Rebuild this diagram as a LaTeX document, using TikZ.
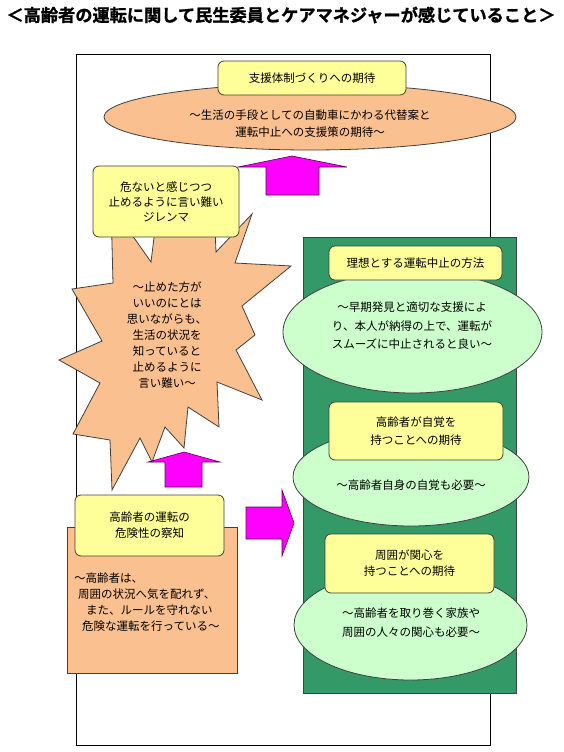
\documentclass[tikz,border=0pt]{standalone}
\usepackage{fontspec}
\setmainfont{Noto Sans CJK JP}
\newfontfamily\titlefont[FakeBold=1.2]{Noto Sans CJK JP Bold}
\usetikzlibrary{shapes.geometric}
\definecolor{boxyellow}{HTML}{FFFF99}
\definecolor{peach}{HTML}{FAC090}
\definecolor{panelgreen}{HTML}{339966}
\definecolor{palegreen}{HTML}{CCFFCC}
\definecolor{arrowpink}{HTML}{FF00FF}
\begin{document}
\begin{tikzpicture}[x = 1pt, y = -1pt,
    heading/.style = {rounded corners = 6pt, draw = black!75, fill = boxyellow,
                      line width = .8pt},
    oval/.style = {ellipse, draw = black!75, line width = .8pt, inner sep = 0pt},
    words/.style = {align = center, inner sep = 0pt,
                    font = \fontsize{11.5}{16}\selectfont},
    bigarrow/.style = {draw = violet!70!black, fill = arrowpink, line width = .6pt}]
  \useasboundingbox (0,0) rectangle (563,752);
  \node [font = \fontsize{17.2}{20}\selectfont\titlefont] (title) at (281,15)
    {＜高齢者の運転に関して民生委員とケアマネジャーが感じていること＞};
  \draw [line width = .8pt] (76,54) rectangle (490,745);
  \node [oval, fill = peach, minimum width = 412pt, minimum height = 66pt]
    (hope) at (310,117) {};
  \node [words, font = \fontsize{11.5}{17}\selectfont] (hopetext) at (310,124)
    {～生活の手段としての自動車にかわる代替案と\\運転中止への支援策の期待～};
  \node [heading, words, minimum width = 188pt, minimum height = 34pt]
    (support) at (312,78) {支援体制づくりへの期待};
  \draw [bigarrow] (266,195) -- (266,167) -- (238,167) -- (292,156)
    -- (347,167) -- (319,167) -- (319,195) -- cycle;
  \draw [draw = black!75, fill = peach, line width = .8pt]
    (113,283) -- (111,205) -- (151,262) -- (158,205) -- (186,228) -- (214,205)
    -- (216,252) -- (252,214) -- (235,263) -- (291,266) -- (242,306)
    -- (255,335) -- (236,350) -- (262,400) -- (217,382) -- (219,427)
    -- (188,407) -- (184,448) -- (165,427) -- (152,462) -- (140,438)
    -- (112,490) -- (110,440) -- (73,434) -- (100,383) -- (59,360)
    -- (102,341) -- (72,289) -- cycle;
  \node [words] (worry) at (167,335)
    {～止めた方が\\いいのにとは\\思いながらも、\\生活の状況を\\知っていると\\止めるように\\言い難い～};
  \node [heading, words, font = \fontsize{11.5}{15}\selectfont,
         minimum width = 146pt, minimum height = 71pt]
    (dilemma) at (166,201.5) {危ないと感じつつ\\止めるように言い難い\\ジレンマ};
  \draw [bigarrow] (165,487) -- (165,462) -- (148,462) -- (184,452)
    -- (220,462) -- (202,462) -- (202,487) -- cycle;
  \draw [draw = black!75, fill = peach, line width = .8pt] (67,527) rectangle (237,673);
  \node [words, align = left, anchor = west] (fact) at (74,602)
    {～高齢者は、\\\hspace{4pt}周囲の状況へ気を配れず、\\\hspace{12pt}また、ルールを守れない\\\hspace{8pt}危険な運転を行っている～};
  \node [heading, words, minimum width = 149pt, minimum height = 61pt]
    (danger) at (149.5,525.5) {高齢者の運転の\\危険性の察知};
  \draw [bigarrow] (246,507) -- (282,507) -- (282,490) -- (294,523)
    -- (282,556) -- (282,539) -- (246,539) -- cycle;
  \fill [panelgreen] (303,237) rectangle (516,693);
  \draw [black!75, line width = .8pt] (303,237) rectangle (516,693);
  \node [oval, fill = palegreen, minimum width = 259pt, minimum height = 122pt]
    (ideal) at (412.5,332) {};
  \node [words, font = \fontsize{11.5}{18.5}\selectfont] (idealtext) at (412,326)
    {～早期発見と適切な支援によ\\り、本人が納得の上で、運転が\\スムーズに中止されると良い～};
  \node [heading, words, minimum width = 173pt, minimum height = 34pt]
    (method) at (415.5,263) {理想とする運転中止の方法};
  \node [oval, fill = palegreen, minimum width = 236pt, minimum height = 98pt]
    (aware) at (411,477) {};
  \node [words] (awaretext) at (411,485) {～高齢者自身の自覚も必要～};
  \node [heading, words, font = \fontsize{11.5}{18}\selectfont,
         minimum width = 174pt, minimum height = 58pt]
    (self) at (416,431) {高齢者が自覚を\\持つことへの期待};
  \node [oval, fill = palegreen, minimum width = 233pt, minimum height = 110pt]
    (care) at (410.5,625) {};
  \node [words, font = \fontsize{11.5}{19}\selectfont] (caretext) at (411,623)
    {～高齢者を取り巻く家族や\\周囲の人々の関心も必要～};
  \node [heading, words, minimum width = 169pt, minimum height = 59pt]
    (around) at (409.5,563.5) {周囲が関心を\\持つことへの期待};
\end{tikzpicture}
\end{document}
